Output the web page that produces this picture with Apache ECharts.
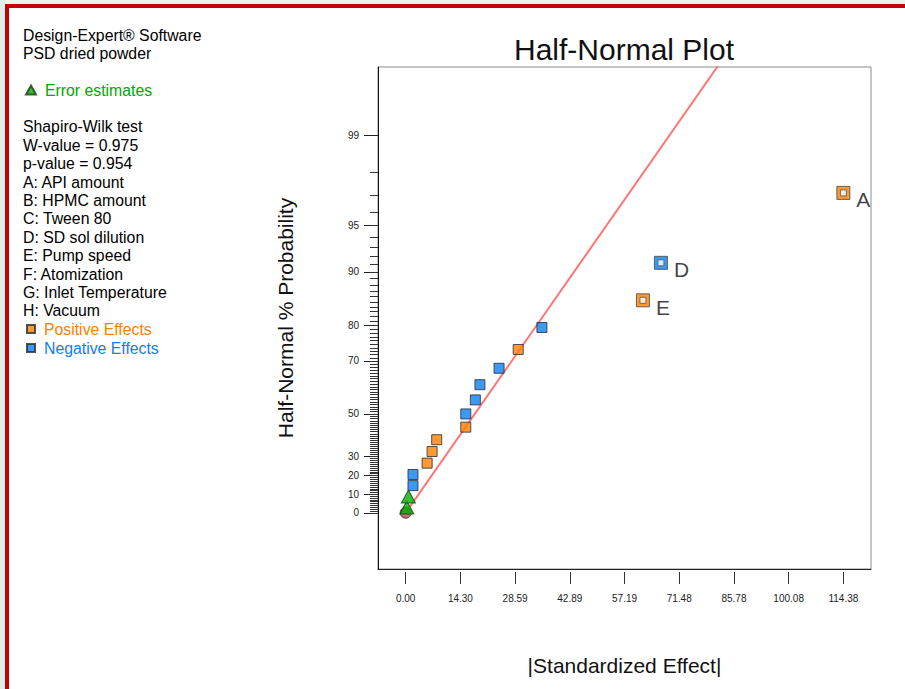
<!DOCTYPE html>
<html>
<head>
<meta charset="utf-8">
<script src="https://cdn.jsdelivr.net/npm/echarts@6/dist/echarts.min.js"></script>
<style>
  html, body { margin: 0; padding: 0; background: #fff; }
  #chart { width: 905px; height: 689px; }
</style>
</head>
<body>
<div id="chart"></div>
<script>
// Half-normal plot of the standardized effects for the PSD dried powder response.

// Axis tick labels
const effectTicks = [0.00, 14.30, 28.59, 42.89, 57.19, 71.48, 85.78, 100.08, 114.38];
const probTicks = [0, 10, 20, 30, 50, 70, 80, 90, 95, 99];

// |Standardized effect| and half-normal % probability of each term
const errorEffect = [0.3, 0.7];
const errorProb = [2.9, 8.8];
const positiveEffect = [5.6, 6.9, 8.1, 15.7, 29.4];
const positiveProb = [26.5, 32.4, 38.2, 44.1, 73.5];
const negativeEffect = [1.9, 1.9, 15.7, 18.2, 19.4, 24.4, 35.6];
const negativeProb = [14.7, 20.6, 50.0, 55.9, 61.8, 67.6, 79.4];
const namedTerms = ['E', 'D', 'A'];
const namedEffect = [62.0, 66.7, 114.38];
const namedProb = [85.3, 91.2, 97.1];
const namedSign = ['+', '-', '+'];

// Reference line through the error estimates (effect, normal score)
const fitEffect = [0, 81.6];
const fitScore = [0, 3.05];

// Side panel text
const headerLines = ['Design-Expert\u00AE Software', 'PSD dried powder'];
const statLines = ['Shapiro-Wilk test', 'W-value = 0.975', 'p-value = 0.954'];
const factorLines = ['A: API amount', 'B: HPMC amount', 'C: Tween 80', 'D: SD sol dilution',
  'E: Pump speed', 'F: Atomization', 'G: Inlet Temperature', 'H: Vacuum'];

const ORANGE = '#ff8000';
const BLUE = '#0a80f8';
const GREEN = '#00a800';
const FONT = '"Liberation Sans", Arial, Helvetica, sans-serif';

// Inverse standard normal CDF (Acklam's rational approximation)
function normInv(p) {
  const a = [-3.969683028665376e+01, 2.209460984245205e+02, -2.759285104469687e+02,
    1.383577518672690e+02, -3.066479806614716e+01, 2.506628277459239e+00];
  const b = [-5.447609879822406e+01, 1.615858368580409e+02, -1.556989798598866e+02,
    6.680131188771972e+01, -1.328068155288572e+01];
  const c = [-7.784894002430293e-03, -3.223964580411365e-01, -2.400758277161838e+00,
    -2.549671348395473e+00, 4.374664141464968e+00, 2.938163982698783e+00];
  const d = [7.784695709041462e-03, 3.224671290700398e-01, 2.445134137142996e+00,
    3.754408661907416e+00];
  const pl = 0.02425, ph = 1 - pl;
  let q, r;
  if (p < pl) {
    q = Math.sqrt(-2 * Math.log(p));
    return (((((c[0] * q + c[1]) * q + c[2]) * q + c[3]) * q + c[4]) * q + c[5]) /
      ((((d[0] * q + d[1]) * q + d[2]) * q + d[3]) * q + 1);
  }
  if (p <= ph) {
    q = p - 0.5; r = q * q;
    return (((((a[0] * r + a[1]) * r + a[2]) * r + a[3]) * r + a[4]) * r + a[5]) * q /
      (((((b[0] * r + b[1]) * r + b[2]) * r + b[3]) * r + b[4]) * r + 1);
  }
  q = Math.sqrt(-2 * Math.log(1 - p));
  return -(((((c[0] * q + c[1]) * q + c[2]) * q + c[3]) * q + c[4]) * q + c[5]) /
    ((((d[0] * q + d[1]) * q + d[2]) * q + d[3]) * q + 1);
}
// Half-normal score for a cumulative percentage
const halfZ = P => (P <= 0 ? 0 : normInv(0.5 + P / 200));

const probTickZ = probTicks.map(halfZ);
const minorTickZ = [];
for (let p = 0; p <= 98; p++) minorTickZ.push(halfZ(p));

function probLabel(z) {
  let best = 0, bestD = Infinity;
  probTickZ.forEach((v, i) => { const dd = Math.abs(v - z); if (dd < bestD) { bestD = dd; best = i; } });
  return String(probTicks[best]);
}

const pairs = (xs, ps) => xs.map((x, i) => [x, halfZ(ps[i])]);

const Y_MIN = -0.384, Y_MAX = 3.043;
const X_MIN = -7.24, X_MAX = 121.6;

const chart = echarts.init(document.getElementById('chart'), null, { renderer: 'svg' });

const sideTextStyle = { fontSize: 15.8, fontFamily: FONT, fill: '#000', lineHeight: 18.4 };
const legendText = { fontSize: 15.8, fontFamily: FONT, lineHeight: 18, padding: [0, 0, 0, 4] };

chart.setOption({
  animation: false,
  backgroundColor: '#fff',
  title: {
    text: 'Half-Normal Plot',
    left: 619,
    top: 29,
    textAlign: 'center',
    textStyle: { fontSize: 30, fontWeight: 'normal', color: '#111', fontFamily: FONT }
  },
  legend: [
    {
      left: 25, top: 81, padding: 0, orient: 'vertical',
      itemWidth: 10, itemHeight: 9, selectedMode: false,
      data: [{ name: 'Error estimates', icon: 'triangle', textStyle: { color: GREEN } }],
      textStyle: legendText
    },
    {
      left: 26, top: 320, padding: 0, orient: 'vertical',
      itemWidth: 8, itemHeight: 8, selectedMode: false,
      data: [{ name: 'Positive Effects', icon: 'rect', textStyle: { color: ORANGE } }],
      textStyle: legendText
    },
    {
      left: 26, top: 339, padding: 0, orient: 'vertical',
      itemWidth: 8, itemHeight: 8, selectedMode: false,
      data: [{ name: 'Negative Effects', icon: 'rect', textStyle: { color: BLUE } }],
      textStyle: legendText
    }
  ],
  grid: {
    left: 378, top: 67, right: 34, bottom: 120,
    show: true, borderColor: '#8c8c8c', borderWidth: 1, backgroundColor: '#fff'
  },
  xAxis: [
    {
      type: 'value', min: X_MIN, max: X_MAX, position: 'bottom',
      name: '|Standardized Effect|', nameLocation: 'middle', nameGap: 86,
      nameTextStyle: { fontSize: 21, color: '#111', fontFamily: FONT },
      axisLine: { show: true, onZero: false, lineStyle: { color: '#222', width: 1 } },
      axisTick: { show: false }, axisLabel: { show: false }, splitLine: { show: false }
    },
    {
      type: 'value', min: X_MIN, max: X_MAX, position: 'bottom', offset: 3,
      axisLine: { show: false, onZero: false },
      axisTick: { show: true, length: 12, customValues: effectTicks, lineStyle: { color: '#333' } },
      axisLabel: {
        show: true, customValues: effectTicks, margin: 21, fontSize: 10, color: '#222',
        fontFamily: FONT, formatter: v => Number(v).toFixed(2)
      },
      splitLine: { show: false }
    }
  ],
  yAxis: [
    {
      type: 'value', min: Y_MIN, max: Y_MAX, position: 'left',
      name: 'Half-Normal % Probability', nameLocation: 'middle', nameGap: 82, nameRotate: 90,
      nameTextStyle: { fontSize: 21, color: '#111', fontFamily: FONT },
      axisLine: { show: true, onZero: false, lineStyle: { color: '#111', width: 1 } },
      axisTick: { show: true, length: 14, customValues: probTickZ, lineStyle: { color: '#222' } },
      axisLabel: {
        show: true, customValues: probTickZ, margin: 19, fontSize: 10, color: '#222',
        fontFamily: FONT, formatter: v => probLabel(v)
      },
      splitLine: { show: false }
    },
    {
      type: 'value', min: Y_MIN, max: Y_MAX, position: 'left',
      axisLine: { show: false, onZero: false },
      axisTick: { show: true, length: 8, customValues: minorTickZ, lineStyle: { color: '#333' } },
      axisLabel: { show: false },
      splitLine: { show: false }
    }
  ],
  series: [
    {
      name: 'fit', type: 'line', silent: true, clip: true, z: 1,
      data: fitEffect.map((x, i) => [x, fitScore[i]]),
      showSymbol: false, symbol: 'none',
      lineStyle: { color: '#ff7474', width: 2 }
    },
    {
      name: 'origin', type: 'scatter', silent: true, z: 2,
      data: [[0, 0]], symbol: 'circle', symbolSize: 11,
      itemStyle: { color: '#a4524a', borderColor: '#3a2626', borderWidth: 1 }
    },
    {
      name: 'Error estimates', type: 'scatter', silent: true, z: 3,
      data: pairs(errorEffect, errorProb), symbol: 'triangle', symbolSize: [14, 13],
      itemStyle: { color: '#00b000', borderColor: '#1d3a1d', borderWidth: 1 }
    },
    {
      name: 'Negative Effects', type: 'scatter', silent: true, z: 3,
      data: pairs(negativeEffect, negativeProb), symbol: 'rect', symbolSize: 10,
      itemStyle: { color: BLUE, borderColor: '#2a2a2a', borderWidth: 1 }
    },
    {
      name: 'Positive Effects', type: 'scatter', silent: true, z: 3,
      data: pairs(positiveEffect, positiveProb), symbol: 'rect', symbolSize: 10,
      itemStyle: { color: ORANGE, borderColor: '#2a2a2a', borderWidth: 1 }
    },
    {
      name: 'named', type: 'scatter', silent: true, z: 4,
      symbol: 'rect', symbolSize: 13,
      data: namedTerms.map((t, i) => ({
        name: t,
        value: [namedEffect[i], halfZ(namedProb[i])],
        itemStyle: { color: namedSign[i] === '+' ? ORANGE : BLUE }
      })),
      itemStyle: { borderColor: '#444', borderWidth: 1 },
      label: {
        show: true, position: 'right', formatter: '{b}', distance: 6, offset: [0, 7],
        fontSize: 21, color: '#111', fontFamily: FONT
      }
    },
    {
      name: 'namedCore', type: 'scatter', silent: true, z: 5,
      symbol: 'rect', symbolSize: 6,
      data: namedTerms.map((t, i) => [namedEffect[i], halfZ(namedProb[i])]),
      itemStyle: { color: '#fff', borderColor: '#555', borderWidth: 1 }
    }
  ],
  graphic: [
    { type: 'rect', silent: true, z: -10, shape: { x: 0, y: 0, width: 905, height: 4 }, style: { fill: '#e9f6e6' } },
    { type: 'rect', silent: true, z: -10, shape: { x: 0, y: 0, width: 5, height: 689 }, style: { fill: '#dfeded' } },
    { type: 'rect', silent: true, z: 10, shape: { x: 5, y: 4, width: 900, height: 4 }, style: { fill: '#c40000' } },
    { type: 'rect', silent: true, z: 10, shape: { x: 5, y: 4, width: 4, height: 685 }, style: { fill: '#c40000' } },
    {
      type: 'text', silent: true, left: 23, top: 26,
      style: Object.assign({ text: headerLines.join('\n') }, sideTextStyle)
    },
    {
      type: 'text', silent: true, left: 23, top: 117.8,
      style: Object.assign({ text: statLines.concat(factorLines).join('\n') }, sideTextStyle)
    }
  ]
});
</script>
</body>
</html>
